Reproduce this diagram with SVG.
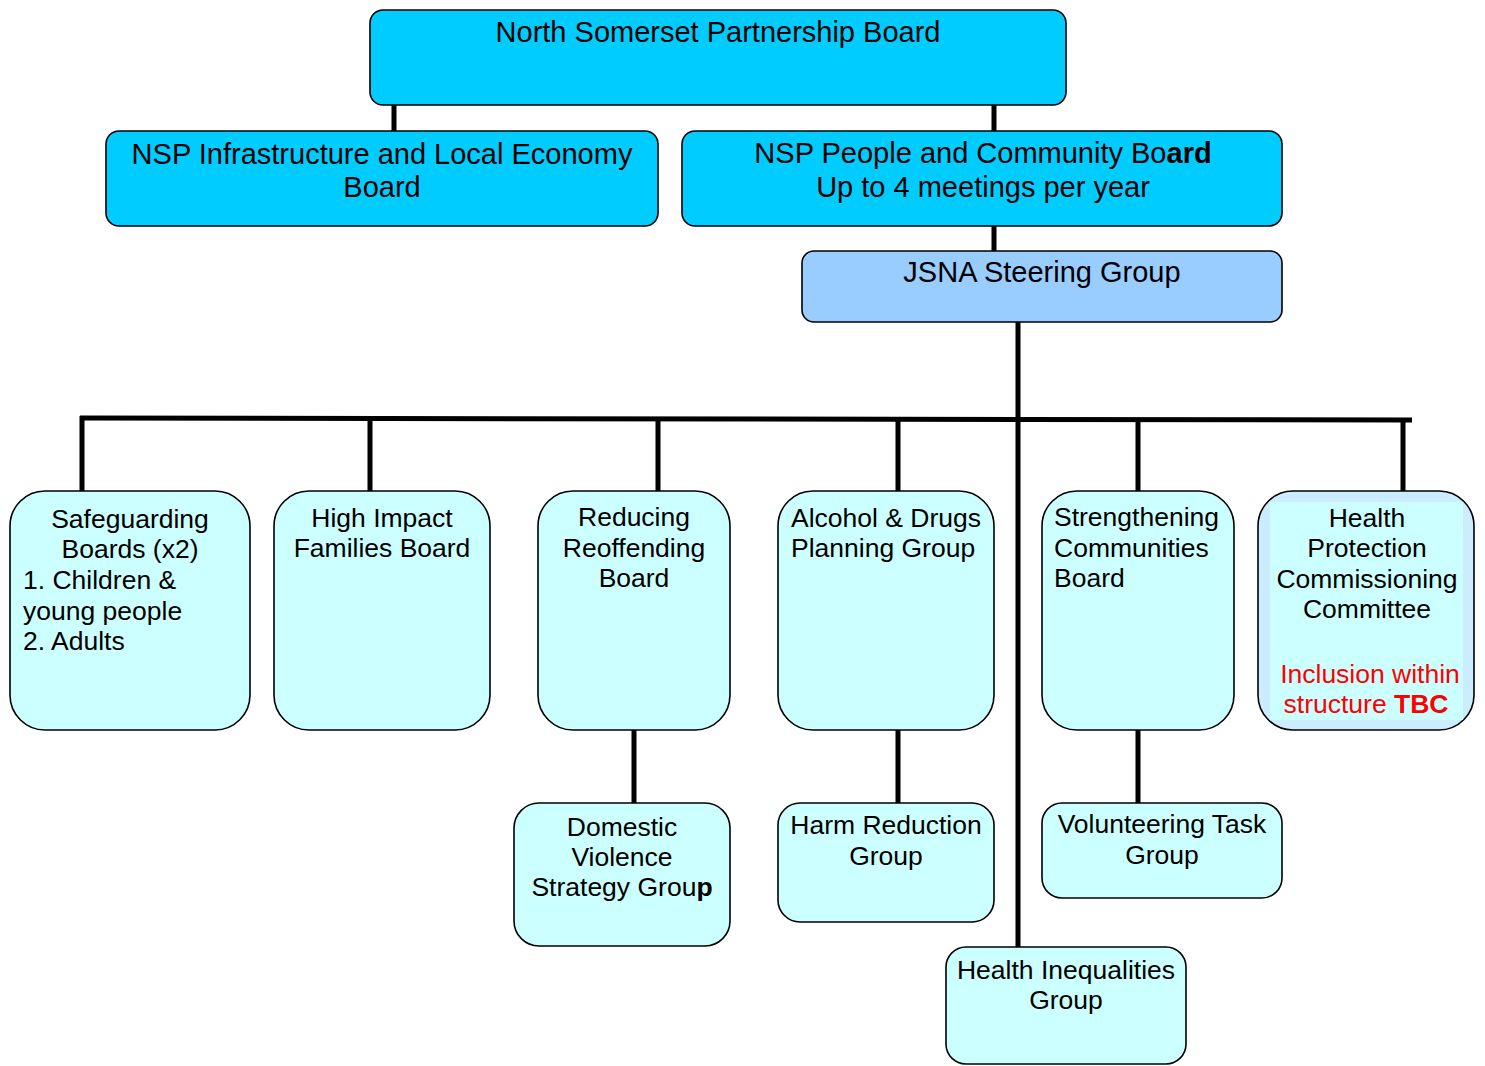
<svg xmlns="http://www.w3.org/2000/svg" width="1485" height="1066" viewBox="0 0 1485 1066">
<style>
  .box { stroke: #000; stroke-width: 1.6; }
  .top { fill: #00CCFF; }
  .jsna { fill: #99CCFF; }
  .leaf { fill: #CCFFFF; }
  .hp { fill: #CCECFF; }
  text { font-family: "Liberation Sans", Arial, sans-serif; fill: #000; }
  .t29 { font-size: 29px; }
  .t26 { font-size: 26.5px; }
  .c { text-anchor: middle; }
  .red { fill: #FF0000; }
  .b { font-weight: bold; }
  .conn line { stroke: #000; stroke-width: 5; }
</style>
<rect width="1485" height="1066" fill="#FFFFFF"/>

<g id="connectors" class="conn">
  <line x1="394" y1="105" x2="394" y2="131"/>
  <line x1="994" y1="105" x2="994" y2="131"/>
  <line x1="994" y1="226" x2="994" y2="251"/>
  <line x1="1018" y1="322" x2="1018" y2="947"/>
  <line x1="80" y1="418" x2="1412" y2="420"/>
  <line x1="82" y1="416" x2="82" y2="491"/>
  <line x1="370" y1="418" x2="370" y2="491"/>
  <line x1="658" y1="418" x2="658" y2="491"/>
  <line x1="898" y1="419" x2="898" y2="491"/>
  <line x1="1138" y1="419" x2="1138" y2="491"/>
  <line x1="1403" y1="420" x2="1403" y2="491"/>
  <line x1="634" y1="730" x2="634" y2="803"/>
  <line x1="898" y1="730" x2="898" y2="803"/>
  <line x1="1138" y1="730" x2="1138" y2="803"/>
</g>

<g id="nsp-board">
  <rect class="box top" x="370" y="10" width="696" height="95" rx="13"/>
  <text class="t29 c" x="718" y="42">North Somerset Partnership Board</text>
</g>

<g id="infrastructure-board">
  <rect class="box top" x="106" y="131" width="552" height="95" rx="13"/>
  <text class="t29 c" x="382" y="164">NSP Infrastructure and Local Economy</text>
  <text class="t29 c" x="382" y="197">Board</text>
</g>

<g id="people-board">
  <rect class="box top" x="682" y="131" width="600" height="95" rx="13"/>
  <text class="t29 c" x="983" y="163">NSP People and Community Bo<tspan class="b">ard</tspan></text>
  <text class="t29 c" x="983" y="197">Up to 4 meetings per year</text>
</g>

<g id="jsna">
  <rect class="box jsna" x="802" y="251" width="480" height="71" rx="12"/>
  <text class="t29 c" x="1042" y="282">JSNA Steering Group</text>
</g>

<g id="safeguarding">
  <rect class="box leaf" x="10" y="491" width="240" height="239" rx="35"/>
  <text class="t26 c" x="130" y="528">Safeguarding</text>
  <text class="t26 c" x="130" y="558">Boards (x2)</text>
  <text class="t26" x="23" y="589">1. Children &amp;</text>
  <text class="t26" x="23" y="620">young people</text>
  <text class="t26" x="23" y="650">2. Adults</text>
</g>

<g id="high-impact">
  <rect class="box leaf" x="274" y="491" width="216" height="239" rx="35"/>
  <text class="t26 c" x="382" y="527">High Impact</text>
  <text class="t26 c" x="382" y="557">Families Board</text>
</g>

<g id="reducing-reoffending">
  <rect class="box leaf" x="538" y="491" width="192" height="239" rx="35"/>
  <text class="t26 c" x="634" y="526">Reducing</text>
  <text class="t26 c" x="634" y="557">Reoffending</text>
  <text class="t26 c" x="634" y="587">Board</text>
</g>

<g id="alcohol-drugs">
  <rect class="box leaf" x="778" y="491" width="216" height="239" rx="35"/>
  <text class="t26" x="791" y="527">Alcohol &amp; Drugs</text>
  <text class="t26" x="791" y="557">Planning Group</text>
</g>

<g id="strengthening">
  <rect class="box leaf" x="1042" y="491" width="192" height="239" rx="35"/>
  <text class="t26" x="1054" y="526">Strengthening</text>
  <text class="t26" x="1054" y="557">Communities</text>
  <text class="t26" x="1054" y="587">Board</text>
</g>

<g id="health-protection">
  <rect class="box hp" x="1258" y="491" width="216" height="239" rx="35"/>
  <rect x="1270" y="502" width="193" height="218" fill="#CCFFFF"/>
  <text class="t26 c" x="1367" y="527">Health</text>
  <text class="t26 c" x="1367" y="557">Protection</text>
  <text class="t26 c" x="1367" y="588">Commissioning</text>
  <text class="t26 c" x="1367" y="618">Committee</text>
  <text class="t26 c red" x="1370" y="683">Inclusion within</text>
  <text class="t26 c red" x="1366" y="713">structure <tspan class="b">TBC</tspan></text>
</g>

<g id="domestic-violence">
  <rect class="box leaf" x="514" y="803" width="216" height="143" rx="25"/>
  <text class="t26 c" x="622" y="836">Domestic</text>
  <text class="t26 c" x="622" y="866">Violence</text>
  <text class="t26 c" x="622" y="896">Strategy Grou<tspan class="b">p</tspan></text>
</g>

<g id="harm-reduction">
  <rect class="box leaf" x="778" y="803" width="216" height="119" rx="22"/>
  <text class="t26 c" x="886" y="834">Harm Reduction</text>
  <text class="t26 c" x="886" y="865">Group</text>
</g>

<g id="volunteering">
  <rect class="box leaf" x="1042" y="803" width="240" height="95" rx="20"/>
  <text class="t26 c" x="1162" y="833">Volunteering Task</text>
  <text class="t26 c" x="1162" y="864">Group</text>
</g>

<g id="health-inequalities">
  <rect class="box leaf" x="946" y="947" width="240" height="117" rx="20"/>
  <text class="t26 c" x="1066" y="979">Health Inequalities</text>
  <text class="t26 c" x="1066" y="1009">Group</text>
</g>
</svg>
